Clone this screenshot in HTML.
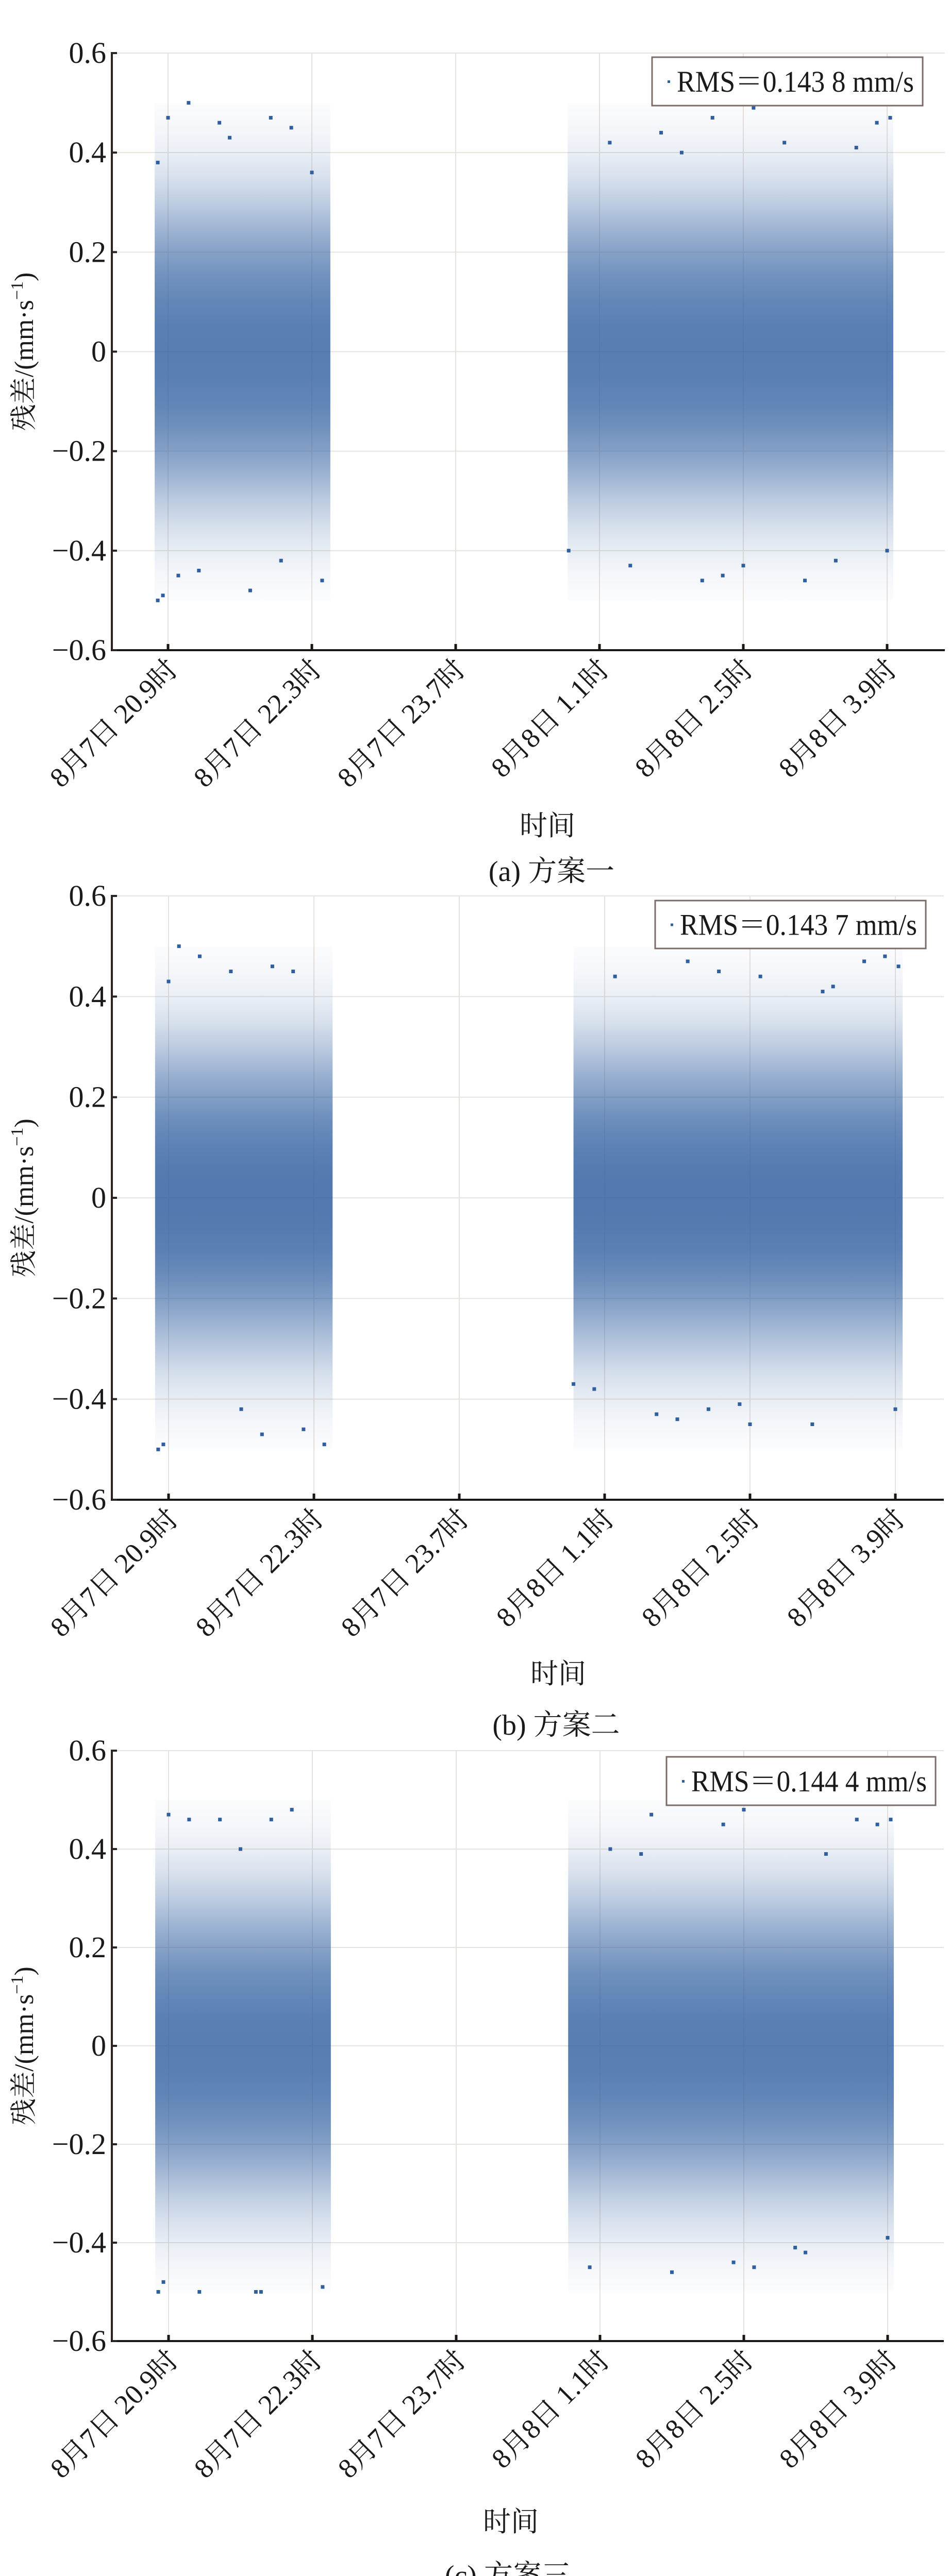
<!DOCTYPE html>
<html><head><meta charset="utf-8"><style>
html,body{margin:0;padding:0;background:#fff;width:1843px;height:5120px;overflow:hidden;}
svg{display:block;position:absolute;left:0;top:0;}
text{font-family:"Liberation Serif","Noto Serif CJK SC",serif;fill:#1a1a1a;}
</style></head>
<body>
<svg id="fig" width="1843" height="5120" viewBox="0 0 1843 5120" xmlns="http://www.w3.org/2000/svg"></svg>
<script>
// ---- data ----
const xTickHours = [20.9, 22.3, 23.7, 25.1, 26.5, 27.9];
const xTickLabels = ["8月7日 20.9时","8月7日 22.3时","8月7日 23.7时","8月8日 1.1时","8月8日 2.5时","8月8日 3.9时"];
const yTicks = [0.6, 0.4, 0.2, 0, -0.2, -0.4, -0.6];
const yTickLabels = ["0.6","0.4","0.2","0","\u22120.2","\u22120.4","\u22120.6"];
const panelCaptions = ["(a) 方案一","(b) 方案二","(c) 方案三"];
const rmsLabels = ["RMS\uFF1D0.143 8 mm/s","RMS\uFF1D0.143 7 mm/s","RMS\uFF1D0.144 4 mm/s"];
// observation segments (hours, continuous)
const segStartA = [20.77, 24.79];
const segEndA = [22.48, 27.96];
const segStartB = [20.77, 24.80];
const segEndB = [22.48, 27.97];
const segStartC = [20.77, 24.79];
const segEndC = [22.48, 27.96];
// residual levels (mm/s) for density profile, top to bottom
const densityLevels = [0.5,0.45,0.4,0.35,0.3,0.25,0.2,0.15,0.1,0.05,0,-0.05,-0.1,-0.15,-0.2,-0.25,-0.3,-0.35,-0.4,-0.45,-0.5];
// point coverage fraction at each level
const densityA = [0.02,0.05,0.1,0.19,0.31,0.45,0.58,0.68,0.75,0.79,0.8,0.79,0.76,0.69,0.59,0.46,0.32,0.2,0.11,0.05,0.02];
const densityB = [0.02,0.05,0.1,0.19,0.32,0.47,0.6,0.71,0.78,0.82,0.83,0.82,0.79,0.72,0.61,0.47,0.33,0.2,0.11,0.05,0.02];
const densityC = [0.02,0.05,0.1,0.19,0.31,0.45,0.58,0.68,0.75,0.79,0.8,0.79,0.76,0.69,0.59,0.46,0.32,0.2,0.11,0.05,0.02];
// sparse outlier points
const outTA = [20.85,20.8,20.9,21.1,21.4,21.9,22.1,21.7,21.2,22.4,22.0,21.5,20.8,22.3,21.0,24.8,25.2,25.4,25.7,26.1,26.2,26.6,26.9,27.1,27.4,27.6,27.8,27.93,27.9,26.5,25.9,26.3];
const outVA = [-0.49,-0.5,0.47,0.5,0.46,0.47,0.45,-0.48,-0.44,-0.46,-0.42,0.43,0.38,0.36,-0.45,-0.4,0.42,-0.43,0.44,-0.46,0.47,0.49,0.42,-0.46,-0.42,0.41,0.46,0.47,-0.4,-0.43,0.4,-0.45];
const outTB = [20.85,20.8,21.0,21.2,21.5,21.9,22.1,21.8,21.6,22.4,22.2,20.9,25.2,25.6,25.9,26.2,26.4,26.6,27.1,27.3,27.6,27.8,27.93,27.9,26.5,25.8,26.1,27.2,25.0,24.8];
const outVB = [-0.49,-0.5,0.5,0.48,0.45,0.46,0.45,-0.47,-0.42,-0.49,-0.46,0.43,0.44,-0.43,0.47,0.45,-0.41,0.44,-0.45,0.42,0.47,0.48,0.46,-0.42,-0.45,-0.44,-0.42,0.41,-0.38,-0.37];
const outTC = [20.85,20.8,20.9,21.1,21.4,21.9,22.1,21.8,21.75,22.4,21.2,21.6,25.0,25.2,25.6,25.8,26.3,26.5,26.6,27.1,27.3,27.6,27.8,27.93,27.9,26.4,25.5,27.0];
const outVC = [-0.48,-0.5,0.47,0.46,0.46,0.46,0.48,-0.5,-0.5,-0.49,-0.5,0.4,-0.45,0.4,0.47,-0.46,0.45,0.48,-0.45,-0.42,0.39,0.46,0.45,0.46,-0.39,-0.44,0.39,-0.41];

const panels = [
  {top:103,  bottom:1262, x0:326, step:279, axR:1833, leg:[1265,111,1790,205], tY:1601, cY:1690, tX:1062, cX:1070,
   segS:segStartA, segE:segEndA, dens:densityA, oT:outTA, oV:outVA},
  {top:1739, bottom:2911, x0:327, step:282, axR:1831, leg:[1271,1748,1796,1841], tY:3247, cY:3347, tX:1083, cX:1079,
   segS:segStartB, segE:segEndB, dens:densityB, oT:outTB, oV:outVB},
  {top:3398, bottom:4544, x0:327, step:279, axR:1831, leg:[1293,3410,1815,3504], tY:4893, cY:4998, tX:991, cX:985,
   segS:segStartC, segE:segEndC, dens:densityC, oT:outTC, oV:outVC}
];
const NS = "http://www.w3.org/2000/svg";
const svg = document.getElementById("fig");
function mk(tag, attrs, parent){ const e=document.createElementNS(NS,tag); for(const k in attrs) e.setAttribute(k,attrs[k]); (parent||svg).appendChild(e); return e; }
const AXL = 217;
const defs = mk("defs", {});

panels.forEach((p, pi) => {
  const g = mk("g", {});
  
  
  const xs = h => p.x0 + (h - xTickHours[0]) / 1.4 * p.step;
  const ys = v => p.top + (0.6 - v) / 1.2 * (p.bottom - p.top);
  yTicks.forEach(v => { const l = mk("line",{x1:AXL,x2:p.axR,y1:ys(v),y2:ys(v),stroke:"#e8e2de","stroke-width":2},g);
      });
  xTickHours.forEach(h => { const l = mk("line",{x1:xs(h),x2:xs(h),y1:p.top,y2:p.bottom,stroke:"#e8e2de","stroke-width":2},g);
      });
  const top = ys(densityLevels[0]), bot = ys(densityLevels[densityLevels.length-1]);
  const grad = mk("linearGradient",{id:"dg"+pi,gradientUnits:"userSpaceOnUse",x1:0,x2:0,y1:top,y2:bot},defs);
  densityLevels.forEach((v, i) => {
    mk("stop",{offset:((ys(v)-top)/(bot-top)).toFixed(4),"stop-color":"#2e5e9f","stop-opacity":p.dens[i]},grad);
  });
  p.segS.forEach((s, si) => {
    const r = mk("rect",{x:xs(s),width:xs(p.segE[si])-xs(s),y:top,height:bot-top,fill:`url(#dg${pi})`},g);
    
    
  });
  p.oT.forEach((t, i) => {
    const c = mk("rect",{x:xs(t)-3.5,y:ys(p.oV[i])-3.5,width:7,height:7,fill:"#2f5f9e"},g);
    
    
  });
  const ya = mk("line",{x1:AXL,x2:AXL,y1:p.top-2,y2:p.bottom,stroke:"#2b2420","stroke-width":4},g);
   
  const xa = mk("line",{x1:AXL-2,x2:p.axR,y1:p.bottom,y2:p.bottom,stroke:"#1a1614","stroke-width":4},g);
   
  yTicks.forEach((v, i) => {
    mk("line",{x1:AXL,x2:AXL+10,y1:ys(v),y2:ys(v),stroke:"#2b2420","stroke-width":4},g);
    const t = mk("text",{x:206,y:ys(v)+19,"text-anchor":"end","font-size":58},g);
    t.textContent = yTickLabels[i];
     
  });
  xTickHours.forEach((h, i) => {
    mk("line",{x1:xs(h),x2:xs(h),y1:p.bottom-12,y2:p.bottom,stroke:"#1a1614","stroke-width":5},g);
    const ax = xs(h)+22, ay = p.bottom+40;
    const t = mk("text",{x:ax,y:ay,"text-anchor":"end","font-size":54,transform:`rotate(-45 ${ax} ${ay})`},g);
    t.textContent = xTickLabels[i];
     
  });
  const yc = (p.top+p.bottom)/2;
  const yt = mk("text",{x:64,y:yc,"text-anchor":"middle","font-size":52,transform:`rotate(-90 64 ${yc})`},g);
  yt.innerHTML = '残差/(mm·s<tspan dy="-20" font-size="34">\u22121</tspan><tspan dy="20">)</tspan>';
   
  const xt = mk("text",{x:p.tX,y:p.tY+20,"text-anchor":"middle","font-size":54},g);
  xt.textContent = "时间";
   
  const cap = mk("text",{x:p.cX,y:p.cY+20,"text-anchor":"middle","font-size":56},g);
  cap.textContent = panelCaptions[pi];
   
  const L = p.leg;
  const lb = mk("rect",{x:L[0],y:L[1],width:L[2]-L[0],height:L[3]-L[1],fill:"#fff",stroke:"#7a6c68","stroke-width":3},g);
   
  const ld = mk("rect",{x:L[0]+30,y:(L[1]+L[3])/2-2,width:5,height:5,fill:"#2f5f9e"},g);
   
  const lt = mk("text",{x:L[0]+48,y:(L[1]+L[3])/2+20,"font-size":58,textLength:L[2]-L[0]-65,lengthAdjust:"spacingAndGlyphs"},g);
  lt.textContent = rmsLabels[pi];
   
});
</script>
</body></html>
